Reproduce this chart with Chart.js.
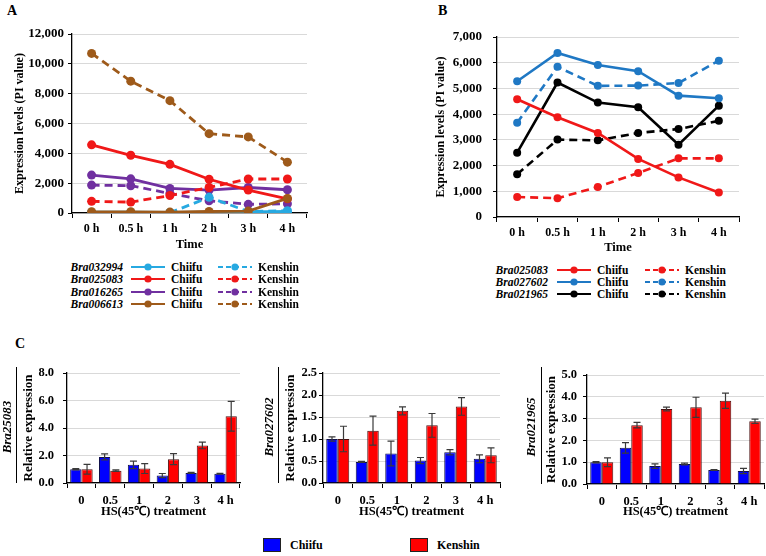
<!DOCTYPE html>
<html>
<head>
<meta charset="utf-8">
<script src="https://cdn.jsdelivr.net/npm/chart.js@4"></script>
<style>
body { margin: 0; background: #fff; }
#fig { position: relative; width: 766px; height: 556px; overflow: hidden;
       font-family: 'Liberation Serif', 'Times New Roman', serif; font-weight: bold; color: #000; }
#fig canvas { position: absolute; }
.letra { position: absolute; font-size: 14px; line-height: 14px; }
.leg { position: absolute; font-size: 11.5px; line-height: 12px; height: 12px; white-space: nowrap; }
.gen { font-style: italic; text-align: right; }
.gen-c { position: absolute; font-size: 13px; font-style: italic; white-space: nowrap;
         transform: translate(-50%, -50%) rotate(-90deg); }
.vline { position: absolute; width: 0; border-left: 1.3px solid #000; }
.caja { position: absolute; width: 18px; height: 14px; border: 1px solid #222; box-sizing: border-box; }
.txt { position: absolute; font-size: 12px; line-height: 14px; }
</style>
</head>
<body>
<div id="fig">
  <div class="letra" style="left:7px;top:4px">A</div>
  <div class="letra" style="left:438px;top:4px">B</div>
  <div class="letra" style="left:15px;top:337px">C</div>

  <canvas id="graficaA" width="330" height="255" style="left:0;top:0"></canvas>
  <canvas id="graficaB" width="386" height="260" style="left:380px;top:0"></canvas>
  <canvas id="graficaC1" width="250" height="170" style="left:0;top:355px"></canvas>
  <canvas id="graficaC2" width="255" height="170" style="left:255px;top:355px"></canvas>
  <canvas id="graficaC3" width="256" height="170" style="left:510px;top:355px"></canvas>

  <div class="gen-c" style="left:7px;top:427px">Bra25083</div>
  <div class="gen-c" style="left:269px;top:427px">Bra027602</div>
  <div class="gen-c" style="left:531px;top:427px">Bra021965</div>
  <div class="vline" style="left:16px;top:367px;height:116px"></div>
  <div class="vline" style="left:278px;top:367px;height:116px"></div>
  <div class="vline" style="left:541px;top:367px;height:117px"></div>

  <div class="caja" style="left:263px;top:538px;background:#0000ff"></div>
  <div class="txt" style="left:290px;top:538px">Chiifu</div>
  <div class="caja" style="left:410px;top:538px;background:#ff0000"></div>
  <div class="txt" style="left:437px;top:538px">Kenshin</div>
</div>
<script>
// ===============================
// DATOS
// ===============================
const timeLabels = ["0 h", "0.5 h", "1 h", "2 h", "3 h", "4 h"];
const hsLabels = ["0", "0.5", "1", "2", "3", "4 h"];

// Panel A (PI value)
const a032994Chiifu = [50, 50, 40, 50, 80, 100];
const a032994Kenshin = [0, 0, 20, 1050, 100, 150];
const a025083Chiifu = [4570, 3870, 3260, 2260, 1540, 950];
const a025083Kenshin = [780, 730, 1170, 1710, 2280, 2280];
const a016265Chiifu = [2540, 2290, 1650, 1540, 1710, 1560];
const a016265Kenshin = [1870, 1830, 1310, 820, 580, 620];
const a006613Chiifu = [80, 80, 60, 100, 130, 980];
const a006613Kenshin = [10700, 8840, 7530, 5320, 5100, 3410];

// Panel B (PI value)
const b025083Chiifu = [4580, 3880, 3270, 2260, 1540, 950];
const b025083Kenshin = [780, 730, 1170, 1710, 2280, 2280];
const b027602Chiifu = [5280, 6380, 5910, 5670, 4720, 4620];
const b027602Kenshin = [3670, 5840, 5100, 5110, 5210, 6080];
const b021965Chiifu = [2500, 5230, 4450, 4270, 2810, 4330];
const b021965Kenshin = [1660, 3010, 2980, 3270, 3420, 3740];

// Panel C (relative expression, +/- error)
const c1Chiifu = [1.0, 1.9, 1.32, 0.54, 0.73, 0.68];
const c1ChiifuErr = [0.05, 0.22, 0.27, 0.15, 0.04, 0.02];
const c1Kenshin = [1.0, 0.9, 1.05, 1.73, 2.73, 4.85];
const c1KenshinErr = [0.35, 0.05, 0.36, 0.4, 0.24, 1.08];

const c2Chiifu = [1.0, 0.48, 0.67, 0.51, 0.70, 0.55];
const c2ChiifuErr = [0.05, 0.01, 0.28, 0.07, 0.06, 0.09];
const c2Kenshin = [1.0, 1.19, 1.64, 1.31, 1.74, 0.63];
const c2KenshinErr = [0.29, 0.33, 0.09, 0.27, 0.2, 0.17];

const c3Chiifu = [1.0, 1.66, 0.82, 0.92, 0.64, 0.6];
const c3ChiifuErr = [0.03, 0.24, 0.1, 0.04, 0.02, 0.12];
const c3Kenshin = [1.0, 2.70, 3.44, 3.52, 3.82, 2.88];
const c3KenshinErr = [0.2, 0.13, 0.09, 0.46, 0.35, 0.1];

// colores
const CYAN = "#27a9e1", RED = "#f01818", PURPLE = "#7030a0", BROWN = "#9e5a1a";
const BLUE = "#1f78c4", BLACK = "#000000";

Chart.defaults.font.family = "'Liberation Serif', 'Times New Roman', serif";
Chart.defaults.font.weight = "bold";
Chart.defaults.color = "#000";

// ===============================
// BARRAS DE ERROR
// ===============================
const errorBars = {
    id: "errorBars",
    afterDatasetsDraw(chart) {
        const ctx = chart.ctx;
        const y = chart.scales.y;
        chart.data.datasets.forEach((ds, i) => {
            if (!ds.errors) return;
            const meta = chart.getDatasetMeta(i);
            meta.data.forEach((bar, j) => {
                const v = ds.data[j], e = ds.errors[j];
                const top = y.getPixelForValue(v + e);
                const bot = y.getPixelForValue(v - e);
                ctx.save();
                ctx.strokeStyle = "#3a3a3a";
                ctx.lineWidth = 1.2;
                ctx.beginPath();
                ctx.moveTo(bar.x, top); ctx.lineTo(bar.x, bot);
                ctx.moveTo(bar.x - 3.5, top); ctx.lineTo(bar.x + 3.5, top);
                ctx.moveTo(bar.x - 3.5, bot); ctx.lineTo(bar.x + 3.5, bot);
                ctx.stroke();
                ctx.restore();
            });
        });
    }
};

// ===============================
// GRÁFICAS DE LÍNEAS
// ===============================
function serie(data, color, dashed, radius, width) {
    return {
        data: data,
        borderColor: color,
        backgroundColor: color,
        borderWidth: width,
        borderDash: dashed ? [8, 5] : [],
        pointRadius: radius,
        pointBorderWidth: 0,
        tension: 0
    };
}

function lineChart(id, datasets, o) {
    return new Chart(document.getElementById(id), {
        type: "line",
        data: { labels: timeLabels, datasets: datasets },
        options: {
            responsive: false,
            animation: false,
            devicePixelRatio: 1,
            layout: { padding: { top: o.top, left: o.left, right: o.right, bottom: 0 } },
            plugins: { legend: { display: false }, tooltip: { enabled: false } },
            scales: {
                x: {
                    offset: true,
                    grid: { offset: true, drawOnChartArea: false, tickLength: 5, tickColor: "#000" },
                    border: { color: "#000", width: 1.3 },
                    ticks: { font: { size: 12 }, padding: 4 },
                    title: { display: true, text: "Time", font: { size: 12.5 }, padding: { top: 0, bottom: o.tb } },
                    afterFit: s => { s.height = o.xh; }
                },
                y: {
                    min: 0, max: o.max,
                    ticks: { stepSize: o.step, font: { size: 13 }, padding: o.tp,
                             callback: v => v.toLocaleString("en-US") },
                    grid: { color: "#d9d9d9", tickLength: 4, tickColor: "#000" },
                    border: { color: "#000", width: 1.3 },
                    title: { display: true, text: "Expression levels (PI value)", font: { size: 12 },
                             padding: { top: o.yt, bottom: 0 } },
                    afterFit: s => { s.width = o.yw; }
                }
            }
        }
    });
}

lineChart("graficaA", [
    serie(a006613Chiifu, BROWN, false, 4.5, 2.8),
    serie(a032994Chiifu, CYAN, false, 4.5, 2.8),
    serie(a032994Kenshin, CYAN, true, 4.5, 2.8),
    serie(a025083Chiifu, RED, false, 4.5, 2.8),
    serie(a025083Kenshin, RED, true, 4.5, 2.8),
    serie(a016265Chiifu, PURPLE, false, 4.5, 2.8),
    serie(a016265Kenshin, PURPLE, true, 4.5, 2.8),
    serie(a006613Kenshin, BROWN, true, 4.5, 2.8)
], { top: 34, left: 0, right: 23, xh: 42, yw: 72, max: 12000, step: 2000, tp: 4, yt: 13, tb: 3 });

lineChart("graficaB", [
    serie(b025083Chiifu, RED, false, 4, 2.6),
    serie(b025083Kenshin, RED, true, 4, 2.6),
    serie(b027602Chiifu, BLUE, false, 4, 2.6),
    serie(b027602Kenshin, BLUE, true, 4, 2.6),
    serie(b021965Chiifu, BLACK, false, 4, 2.6),
    serie(b021965Kenshin, BLACK, true, 4, 2.6)
], { top: 37, left: 50, right: 27, xh: 43, yw: 67, max: 7000, step: 1000, tp: 11, yt: 4, tb: 5 });

// ===============================
// GRÁFICAS DE BARRAS
// ===============================
function barChart(id, chiifu, chiifuErr, kenshin, kenshinErr, o) {
    return new Chart(document.getElementById(id), {
        type: "bar",
        data: {
            labels: hsLabels,
            datasets: [
                { label: "Chiifu", data: chiifu, errors: chiifuErr, backgroundColor: "#0000ff",
                  borderColor: "#10104a", borderWidth: 1 },
                { label: "Kenshin", data: kenshin, errors: kenshinErr, backgroundColor: "#ff0000",
                  borderColor: "#4a1010", borderWidth: 1 }
            ]
        },
        options: {
            responsive: false,
            animation: false,
            devicePixelRatio: 1,
            layout: { padding: { top: o.top, left: o.left, right: o.right, bottom: 0 } },
            plugins: { legend: { display: false }, tooltip: { enabled: false } },
            datasets: { bar: { categoryPercentage: 0.78, barPercentage: 1.0 } },
            scales: {
                x: {
                    grid: { offset: true, drawOnChartArea: false, tickLength: 5, tickColor: "#000" },
                    border: { color: "#000", width: 1.3 },
                    ticks: { font: { size: 12.5 }, padding: 5 },
                    title: { display: true, text: "HS(45℃) treatment", font: { size: 12.5 },
                             padding: { top: 0, bottom: 5.5 } },
                    afterFit: s => { s.height = o.xh; }
                },
                y: {
                    min: 0, max: o.max,
                    ticks: { stepSize: o.step, font: { size: 12.5 }, padding: o.tp,
                             callback: v => v.toFixed(1) },
                    grid: { color: "#d9d9d9", tickLength: 4, tickColor: "#000" },
                    border: { color: "#000", width: 1.3 },
                    title: { display: true, text: "Relative expression", font: { size: 13 },
                             padding: { top: o.yt, bottom: 0 } },
                    afterFit: s => { s.width = o.yw; }
                }
            }
        },
        plugins: [errorBars]
    });
}

barChart("graficaC1", c1Chiifu, c1ChiifuErr, c1Kenshin, c1KenshinErr,
    { top: 18, left: 18, right: 10, xh: 42, yw: 49, max: 8, step: 2, tp: 9, yt: 3 });
barChart("graficaC2", c2Chiifu, c2ChiifuErr, c2Kenshin, c2KenshinErr,
    { top: 18, left: 25, right: 10, xh: 42, yw: 43, max: 2.5, step: 0.5, tp: 2, yt: 3 });
barChart("graficaC3", c3Chiifu, c3ChiifuErr, c3Kenshin, c3KenshinErr,
    { top: 20, left: 33, right: 2, xh: 41, yw: 44, max: 5, step: 1, tp: 6, yt: 1 });

// ===============================
// LEYENDAS A y B
// ===============================
const fig = document.getElementById("fig");

function muestra(color, dashed) {
    const dash = dashed ? ' stroke-dasharray="5,3"' : "";
    return '<svg width="34" height="12" style="vertical-align:top">' +
        '<line x1="0" y1="6" x2="34" y2="6" stroke="' + color + '" stroke-width="2.2"' + dash + '/>' +
        '<circle cx="17" cy="6" r="3.6" fill="' + color + '"/></svg>';
}

function filaLeyenda(gene, color, y, p) {
    const g = document.createElement("div");
    g.className = "leg gen";
    g.style.cssText = "left:" + (p.gRight - 80) + "px;width:80px;top:" + (y - 6) + "px";
    g.textContent = gene;
    fig.appendChild(g);

    const items = [[p.l1, false, p.t1, "Chiifu"], [p.l2, true, p.t2, "Kenshin"]];
    items.forEach(it => {
        const s = document.createElement("div");
        s.className = "leg";
        s.style.cssText = "left:" + it[0] + "px;top:" + (y - 6) + "px";
        s.innerHTML = muestra(color, it[1]);
        fig.appendChild(s);
        const t = document.createElement("div");
        t.className = "leg";
        t.style.cssText = "left:" + it[2] + "px;top:" + (y - 6) + "px";
        t.textContent = it[3];
        fig.appendChild(t);
    });
}

const genesA = ["Bra032994", "Bra025083", "Bra016265", "Bra006613"];
const coloresA = [CYAN, RED, PURPLE, BROWN];
const posA = { gRight: 123, l1: 131, t1: 171, l2: 218, t2: 258 };
genesA.forEach((g, i) => filaLeyenda(g, coloresA[i], 267 + i * 12.4, posA));

const genesB = ["Bra025083", "Bra027602", "Bra021965"];
const coloresB = [RED, BLUE, BLACK];
const posB = { gRight: 548, l1: 557, t1: 597, l2: 645, t2: 685 };
genesB.forEach((g, i) => filaLeyenda(g, coloresB[i], 270 + i * 12.2, posB));
</script>
</body>
</html>
